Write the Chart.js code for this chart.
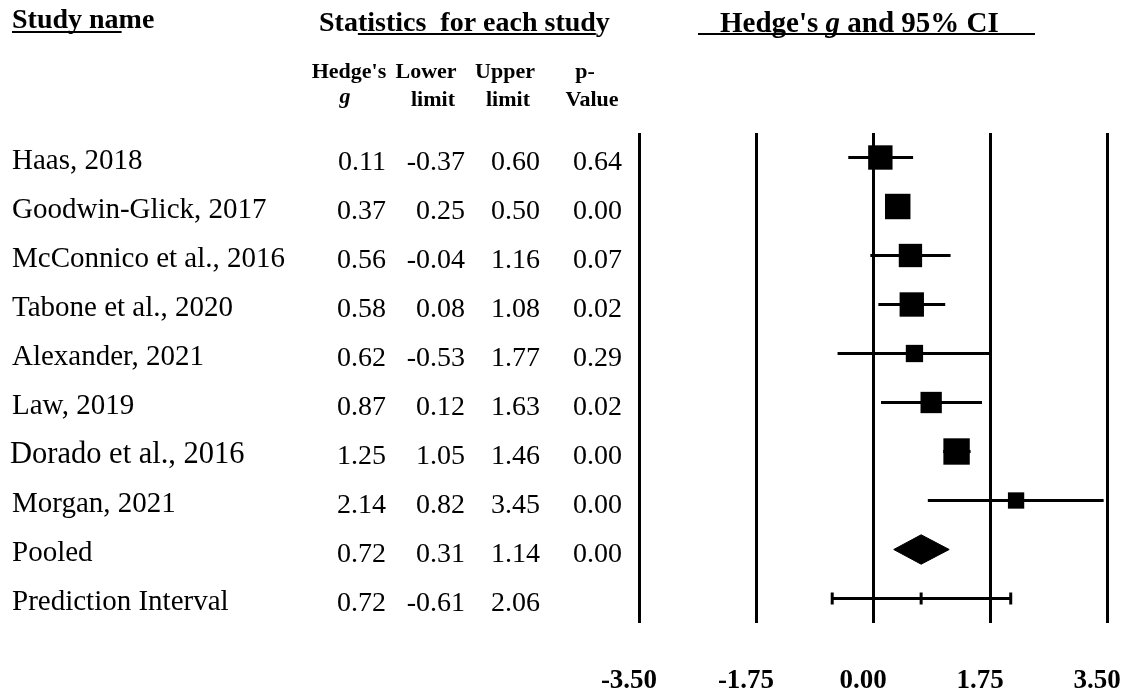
<!DOCTYPE html>
<html>
<head>
<meta charset="utf-8">
<script src="https://cdn.jsdelivr.net/npm/chart.js@4.4.1/dist/chart.umd.min.js"></script>
<style>
  html, body { margin: 0; padding: 0; background: #ffffff; }
  #wrap { width: 1131px; height: 694px; position: relative; }
</style>
</head>
<body>
<div id="wrap"><canvas id="forest" width="1131" height="694"></canvas></div>
<script>
// ---- data ----
const studyNames = [
  'Haas, 2018',
  'Goodwin-Glick, 2017',
  'McConnico et al., 2016',
  'Tabone et al., 2020',
  'Alexander, 2021',
  'Law, 2019',
  'Dorado et al., 2016',
  'Morgan, 2021'
];
const hedgesG    = [0.11, 0.37, 0.56, 0.58, 0.62, 0.87, 1.25, 2.14];
const lowerLimit = [-0.37, 0.25, -0.04, 0.08, -0.53, 0.12, 1.05, 0.82];
const upperLimit = [0.60, 0.50, 1.16, 1.08, 1.77, 1.63, 1.46, 3.45];
const pValues    = [0.64, 0.00, 0.07, 0.02, 0.29, 0.02, 0.00, 0.00];
// relative weight of each study (%)
const studyWeights = [14.5, 15.8, 13.3, 14.5, 7.3, 11.1, 17.0, 6.5];

// summary rows: [g, lower, upper, p]
const pooledStats = [0.72, 0.31, 1.14, 0.00];
const predictionInterval = [0.72, -0.61, 2.06];

const axisTicks = [-3.50, -1.75, 0.00, 1.75, 3.50];

// ---- helpers ----
const SERIF = '"Liberation Serif", "Times New Roman", serif';
const BLACK = '#000000';
const POOLED_ROW = studyNames.length;
const PI_ROW = studyNames.length + 1;
const DIAMOND_HALF = 0.3;               // half height of the pooled diamond (row units)
const markerSide = w => 6.4 * Math.sqrt(w);   // square side in px from weight

const datasets = [];

// confidence interval whiskers
studyNames.forEach((name, i) => {
  datasets.push({
    type: 'line',
    data: [{ x: lowerLimit[i], y: i }, { x: upperLimit[i], y: i }],
    borderColor: BLACK,
    borderWidth: 3,
    pointRadius: 0,
    borderCapStyle: 'butt'
  });
});

// study squares
datasets.push({
  type: 'scatter',
  data: hedgesG.map((g, i) => ({ x: g, y: i })),
  pointStyle: 'rect',
  pointRadius: studyWeights.map(w => markerSide(w) / Math.SQRT2),
  backgroundColor: BLACK,
  borderColor: BLACK,
  borderWidth: 0
});

// pooled estimate diamond
datasets.push({
  type: 'line',
  data: [
    { x: pooledStats[1], y: POOLED_ROW },
    { x: pooledStats[0], y: POOLED_ROW - DIAMOND_HALF },
    { x: pooledStats[2], y: POOLED_ROW },
    { x: pooledStats[0], y: POOLED_ROW + DIAMOND_HALF },
    { x: pooledStats[1], y: POOLED_ROW }
  ],
  borderColor: BLACK,
  borderWidth: 1,
  backgroundColor: BLACK,
  fill: 'shape',
  pointRadius: 0,
  tension: 0
});

// prediction interval line with end and centre ticks
datasets.push({
  type: 'line',
  data: [{ x: predictionInterval[1], y: PI_ROW }, { x: predictionInterval[2], y: PI_ROW }],
  borderColor: BLACK,
  borderWidth: 3,
  pointRadius: 0
});
datasets.push({
  type: 'scatter',
  data: [predictionInterval[1], predictionInterval[0], predictionInterval[2]].map(v => ({ x: v, y: PI_ROW })),
  pointStyle: 'line',
  rotation: 90,
  pointRadius: 6,
  borderColor: BLACK,
  borderWidth: 3
});

// ---- table and headings drawn beside the plot ----
const fmt = v => v.toFixed(2);
const columnRight = [386, 465, 540, 622];

function underline(ctx, x1, x2, y, w) {
  ctx.save();
  ctx.strokeStyle = BLACK;
  ctx.lineWidth = w;
  ctx.beginPath();
  ctx.moveTo(x1, y);
  ctx.lineTo(x2, y);
  ctx.stroke();
  ctx.restore();
}

const tablePlugin = {
  id: 'studyTable',
  afterDraw(chart) {
    const ctx = chart.ctx;
    const ys = chart.scales.y;
    ctx.save();
    ctx.fillStyle = BLACK;
    ctx.textBaseline = 'alphabetic';

    // headings
    ctx.textAlign = 'left';
    ctx.font = 'bold 28px ' + SERIF;
    ctx.fillText('Study name', 12, 28);
    underline(ctx, 12, 12 + ctx.measureText('Study na').width + 3, 32, 2);

    const stats = 'Statistics  for each study';
    ctx.fillText(stats, 319, 31);
    underline(ctx, 319 + ctx.measureText('Sta').width,
              319 + ctx.measureText('Statistics  for each stud').width, 34, 2);

    // effect size heading with italic g
    let x = 720;
    ctx.font = 'bold 29px ' + SERIF;
    ctx.fillText("Hedge's ", x, 32);
    x += ctx.measureText("Hedge's ").width;
    ctx.font = 'bold italic 29px ' + SERIF;
    ctx.fillText('g', x, 32);
    x += ctx.measureText('g').width;
    ctx.font = 'bold 29px ' + SERIF;
    ctx.fillText(' and 95% CI', x, 32);
    underline(ctx, 698, 1035, 34, 2);

    // column headings
    ctx.textAlign = 'center';
    ctx.font = 'bold 22px ' + SERIF;
    ctx.fillText("Hedge's", 349, 78);
    ctx.fillText('Lower', 426, 78);
    ctx.fillText('Upper', 505, 78);
    ctx.fillText('p-', 585, 78);
    ctx.fillText('limit', 433, 106);
    ctx.fillText('limit', 508, 106);
    ctx.fillText('Value', 592, 106);
    ctx.font = 'bold italic 22px ' + SERIF;
    ctx.fillText('g', 345, 103);

    // study rows
    const rowLabels = [...studyNames, 'Pooled', 'Prediction Interval'];
    const rowValues = studyNames.map((n, i) => [hedgesG[i], lowerLimit[i], upperLimit[i], pValues[i]]);
    rowValues.push(pooledStats);
    rowValues.push(predictionInterval);

    rowLabels.forEach((label, i) => {
      const yc = ys.getPixelForValue(i);
      ctx.textAlign = 'left';
      ctx.font = (i === 6 ? '30.5px ' : '29px ') + SERIF;
      ctx.fillText(label, i === 6 ? 10 : 12, yc + 11);
      ctx.textAlign = 'right';
      ctx.font = '28px ' + SERIF;
      rowValues[i].forEach((v, c) => {
        ctx.fillText(fmt(v), columnRight[c], yc + 12);
      });
    });
    ctx.restore();
  }
};

new Chart(document.getElementById('forest'), {
  data: { datasets },
  plugins: [tablePlugin],
  options: {
    responsive: false,
    animation: false,
    devicePixelRatio: 1,
    layout: { padding: { left: 639, right: 24, top: 133, bottom: 0 } },
    plugins: { legend: { display: false }, tooltip: { enabled: false } },
    scales: {
      x: {
        type: 'linear',
        min: axisTicks[0],
        max: axisTicks[axisTicks.length - 1],
        afterBuildTicks: s => { s.ticks = axisTicks.map(v => ({ value: v })); },
        afterFit: s => { s.paddingLeft = 0; s.paddingRight = 0; s.height = 71; },
        grid: { color: BLACK, lineWidth: 3, drawTicks: false },
        border: { display: false },
        ticks: {
          color: BLACK,
          padding: 42,
          labelOffset: -10,
          maxRotation: 0,
          autoSkip: false,
          font: { family: SERIF, size: 27, weight: 'bold' },
          callback: v => Number(v).toFixed(2)
        }
      },
      y: {
        type: 'linear',
        reverse: true,
        min: -0.5,
        max: PI_ROW + 0.5,
        display: false
      }
    }
  }
});
</script>
</body>
</html>
